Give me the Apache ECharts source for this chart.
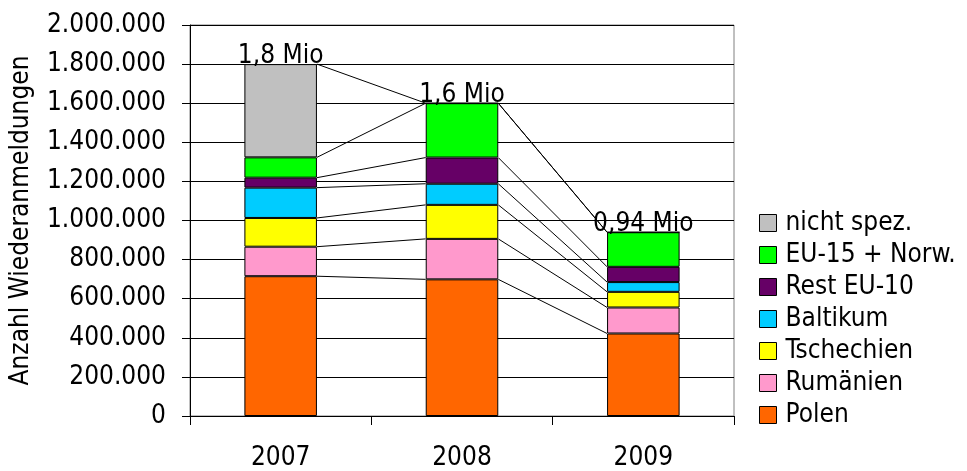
<!DOCTYPE html>
<html>
<head>
<meta charset="utf-8">
<style>
  html, body { margin: 0; padding: 0; background: #fff; }
  #chart { width: 967px; height: 471px; }
</style>
<script src="https://cdn.jsdelivr.net/npm/echarts@6/dist/echarts.min.js"></script>
</head>
<body>
<div id="chart"></div>
<script>
// Wiederanmeldungen nach Herkunft, 2007-2009
const years = ['2007', '2008', '2009'];
const polen      = [715000, 699000, 422000];
const rumaenien  = [151000, 207000, 133000];
const tschechien = [147000, 174000, 80000];
const baltikum   = [155000, 108000, 50000];
const restEU10   = [51000, 134000, 78000];
const eu15Norw   = [104000, 278000, 177000];
const nichtSpez  = [477000, 0, 0];

const yTicks = { min: 0, max: 2000000, step: 200000 };

const FONT = "'DejaVu Sans Condensed', 'DejaVu Sans', sans-serif";
const FS = 26;

// stacked series, bottom to top
const stack = [
  { name: 'Polen',          data: polen,      color: '#FF6600' },
  { name: 'Rumänien',       data: rumaenien,  color: '#FF99CC' },
  { name: 'Tschechien',     data: tschechien, color: '#FFFF00' },
  { name: 'Baltikum',       data: baltikum,   color: '#00CCFF' },
  { name: 'Rest EU-10',     data: restEU10,   color: '#660066' },
  { name: 'EU-15 + Norw.',  data: eu15Norw,   color: '#00FF00' },
  { name: 'nicht spez.',    data: nichtSpez,  color: '#C0C0C0' }
];

const BAR_RATIO = 0.4;

// cumulative tops of each stack layer
const cumTops = [];
let running = years.map(() => 0);
stack.forEach(s => {
  running = running.map((v, i) => v + s.data[i]);
  cumTops.push(running.slice());
});
const totals = running.slice();

// connector lines between neighbouring bars: [fromIndex, fromTop, toTop]
const connectorData = [];
cumTops.forEach(top => {
  for (let i = 0; i < years.length - 1; i++) {
    connectorData.push([i, top[i], top[i + 1]]);
  }
});

function fmtThousands(v) {
  return String(Math.round(v)).replace(/\B(?=(\d{3})+(?!\d))/g, '.');
}
function fmtMio(v) {
  const m = Math.round(v / 10000) / 100;
  return String(m).replace('.', ',') + ' Mio';
}

const chart = echarts.init(document.getElementById('chart'), null, { renderer: 'canvas' });

const barSeries = stack.map(s => ({
  name: s.name,
  type: 'bar',
  stack: 'total',
  barWidth: (BAR_RATIO * 100) + '%',
  data: s.data,
  itemStyle: { color: s.color, borderColor: '#000', borderWidth: 1 },
  emphasis: { disabled: true },
  z: 3
}));

const option = {
  animation: false,
  backgroundColor: '#fff',
  textStyle: { fontFamily: FONT },
  grid: {
    left: 190, right: 233, top: 25, bottom: 52,
    show: true, borderColor: '#808080', borderWidth: 1,
    backgroundColor: 'transparent'
  },
  legend: {
    orient: 'vertical',
    left: 759,
    top: 210,
    padding: 0,
    itemWidth: 17,
    itemHeight: 17,
    itemGap: 6,
    icon: 'rect',
    itemStyle: { borderColor: '#000', borderWidth: 1 },
    textStyle: { fontFamily: FONT, fontSize: FS, color: '#000', padding: [0, 0, 0, 4] },
    data: stack.map(s => s.name).reverse(),
    selectedMode: false
  },
  xAxis: {
    type: 'category',
    data: years,
    boundaryGap: true,
    axisLine: { lineStyle: { color: '#000', width: 1 } },
    axisTick: { show: true, length: 9, alignWithLabel: false, lineStyle: { color: '#000' } },
    axisLabel: { fontFamily: FONT, fontSize: FS, color: '#000', margin: 29 },
    splitLine: { show: false }
  },
  yAxis: {
    type: 'value',
    min: yTicks.min,
    max: yTicks.max,
    interval: yTicks.step,
    name: 'Anzahl Wiederanmeldungen',
    nameLocation: 'middle',
    nameRotate: 90,
    nameGap: 156,
    nameTextStyle: { fontFamily: FONT, fontSize: FS, color: '#000' },
    axisLine: { show: true, lineStyle: { color: '#000', width: 1 } },
    axisTick: { show: true, length: 8, lineStyle: { color: '#000' } },
    axisLabel: { fontFamily: FONT, fontSize: FS, color: '#000', margin: 24, formatter: fmtThousands },
    splitLine: { show: true, lineStyle: { color: '#000', width: 1 } }
  },
  series: [
    ...barSeries,
    {
      name: 'Verbindungslinien',
      type: 'custom',
      z: 2,
      silent: true,
      encode: { x: 0, y: [1, 2] },
      data: connectorData,
      renderItem: function (params, api) {
        const i = api.value(0);
        const p1 = api.coord([i, api.value(1)]);
        const p2 = api.coord([i + 1, api.value(2)]);
        const half = api.size([1, 0])[0] * BAR_RATIO / 2;
        return {
          type: 'line',
          shape: { x1: p1[0] + half, y1: p1[1], x2: p2[0] - half, y2: p2[1] },
          style: { stroke: '#000', lineWidth: 1 }
        };
      }
    },
    {
      name: 'Summen',
      type: 'custom',
      z: 5,
      silent: true,
      encode: { x: 0, y: 1 },
      data: totals.map((t, i) => [i, t]),
      renderItem: function (params, api) {
        const p = api.coord([api.value(0), api.value(1)]);
        return {
          type: 'text',
          x: p[0],
          y: p[1] - 8,
          style: {
            text: fmtMio(api.value(1)),
            font: FS + 'px ' + FONT,
            fill: '#000',
            align: 'center',
            verticalAlign: 'middle'
          }
        };
      }
    }
  ]
};

chart.setOption(option);
</script>
</body>
</html>
